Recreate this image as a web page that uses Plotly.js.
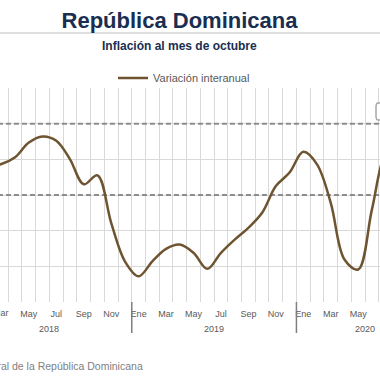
<!DOCTYPE html>
<html>
<head>
<meta charset="utf-8">
<script src="https://cdn.plot.ly/plotly-3.0.1.min.js"></script>
<style>html,body{margin:0;padding:0;background:#fff;}#chart{width:380px;height:380px;}</style>
</head>
<body>
<div id="chart"></div>
<script>
// Month categories (Jan 2018 .. Oct 2020)
const meses = ["Ene","Feb","Mar","Abr","May","Jun","Jul","Ago","Sep","Oct","Nov","Dic",
               "Ene","Feb","Mar","Abr","May","Jun","Jul","Ago","Sep","Oct","Nov","Dic",
               "Ene","Feb","Mar","Abr","May","Jun","Jul","Ago","Sep","Oct"];
const anios = ["2018","2019","2020"];
// Year-over-year inflation (%)
const variacionInteranual = [
  4.20, 3.80, 3.87, 4.06, 4.47, 4.64, 4.52, 4.00, 3.30, 3.55, 2.22, 1.14,
  0.72, 1.14, 1.49, 1.61, 1.38, 0.93, 1.38, 1.75, 2.08, 2.50, 3.25, 3.63,
  4.21, 3.86, 2.78, 1.19, 0.91, 2.59, 4.20, 4.60, 4.80, 5.00
];
// Target range bounds (%)
const metaSuperior = meses.map(() => 5);
const metaInferior = meses.map(() => 3);
const fuente = "Fuente: Banco Central de la República Dominicana";

const idx = meses.map((_, i) => i);
// tick labels every other month
const tickIdx = idx.filter(i => i % 2 === 0);
const tickTxt = tickIdx.map(i => meses[i]);
// category boundaries for grid
const bounds = [];
for (let i = -1; i < meses.length; i++) bounds.push(i + 0.5);
// year group centers
const yearCenters = anios.map((a, k) => {
  const ii = idx.filter(i => Math.floor(i / 12) === k);
  return (ii[0] + ii[ii.length - 1]) / 2;
});
const yearSeps = [11.5, 23.5];

const traces = [
  {x: idx, y: metaSuperior, type: 'scatter', mode: 'lines', showlegend: false, hoverinfo: 'skip',
   line: {color: '#8c8c8c', width: 2, dash: '5px,3px'}},
  {x: idx, y: metaInferior, type: 'scatter', mode: 'lines', showlegend: false, hoverinfo: 'skip',
   line: {color: '#8c8c8c', width: 2, dash: '5px,3px'}},
  {x: idx, y: variacionInteranual, type: 'scatter', mode: 'lines', name: 'Variación interanual',
   line: {color: '#6e5430', width: 2.5, shape: 'spline', smoothing: 1}}
];

const PH = 214; // plot height in px
const py = px => 1 - (px - 88) / PH;

const annotations = [
  {xref: 'paper', yref: 'paper', x: 179 / 380, y: py(46), xanchor: 'center', yanchor: 'middle',
   text: '<b>Inflación al mes de octubre</b>', showarrow: false,
   font: {family: 'Liberation Sans, Arial, sans-serif', size: 12, color: '#1a2e4f'}},
  {xref: 'paper', yref: 'paper', x: 145 / 380, y: py(366), xanchor: 'right', yanchor: 'middle',
   text: fuente, showarrow: false,
   font: {family: 'Liberation Sans, Arial, sans-serif', size: 10.5, color: '#808080'}},
  // partially visible first tick label at the cropped left edge
  {xref: 'x', yref: 'paper', x: 2, y: py(313), xanchor: 'center', yanchor: 'middle',
   text: meses[2], showarrow: false,
   font: {family: 'Liberation Sans, Arial, sans-serif', size: 9, color: '#595959'}}
];
anios.forEach((a, k) => annotations.push({
  xref: 'x', yref: 'paper', x: yearCenters[k], y: py(329), xanchor: 'center', yanchor: 'middle',
  text: a, showarrow: false, font: {family: 'Liberation Sans, Arial, sans-serif', size: 9, color: '#595959'}
}));

const shapes = [
  {type: 'line', xref: 'paper', yref: 'paper', x0: 0, x1: 1, y0: py(33), y1: py(33),
   line: {color: '#d6d6d6', width: 1.5}},
  {type: 'path', xref: 'paper', yref: 'paper',
   path: 'M 0.995 ' + py(103) + ' L 1.05 ' + py(103) + ' L 1.05 ' + py(120) + ' L 0.995 ' + py(120) + ' Q 0.9895 ' + py(120) + ' 0.9895 ' + py(116) + ' L 0.9895 ' + py(107) + ' Q 0.9895 ' + py(103) + ' 0.995 ' + py(103) + ' Z',
   line: {color: '#a6a6a6', width: 1.5}, fillcolor: '#ffffff'}
];
yearSeps.forEach(s => shapes.push({type: 'line', xref: 'x', yref: 'paper', x0: s, x1: s, y0: 0, y1: py(333),
  line: {color: '#7f7f7f', width: 1.5}}));

const layout = {
  width: 380, height: 380,
  margin: {l: 0, r: 0, t: 88, b: 78},
  paper_bgcolor: '#ffffff', plot_bgcolor: '#ffffff',
  title: {text: '<b>República Dominicana</b>', x: 179.5 / 380, xanchor: 'center', xref: 'paper',
          yref: 'container', y: 1 - 20 / 380, yanchor: 'middle',
          font: {family: 'Liberation Sans, Arial, sans-serif', size: 22, color: '#1a2e4f'}},
  showlegend: true,
  legend: {orientation: 'h', x: 113 / 380, xanchor: 'left', y: py(78), yanchor: 'middle',
           font: {family: 'Liberation Sans, Arial, sans-serif', size: 11, color: '#595959'},
           bgcolor: 'rgba(0,0,0,0)'},
  xaxis: {range: [1.898, 29.59], showgrid: false, zeroline: false, showline: false,
          tickmode: 'array', tickvals: tickIdx, ticktext: tickTxt, ticks: '', ticklen: 0,
          ticklabelstandoff: 5,
          tickfont: {family: 'Liberation Sans, Arial, sans-serif', size: 9, color: '#595959'},
          minor: {tickmode: 'array', tickvals: bounds, showgrid: true, gridcolor: '#d9d9d9', gridwidth: 1, ticks: ''}},
  yaxis: {range: [0, 6], showticklabels: false, zeroline: false, showline: false,
          tickmode: 'linear', tick0: 0, dtick: 1, showgrid: true, gridcolor: '#d9d9d9', gridwidth: 1},
  annotations: annotations,
  shapes: shapes
};

Plotly.newPlot('chart', traces, layout, {displayModeBar: false, staticPlot: true});
</script>
</body>
</html>
